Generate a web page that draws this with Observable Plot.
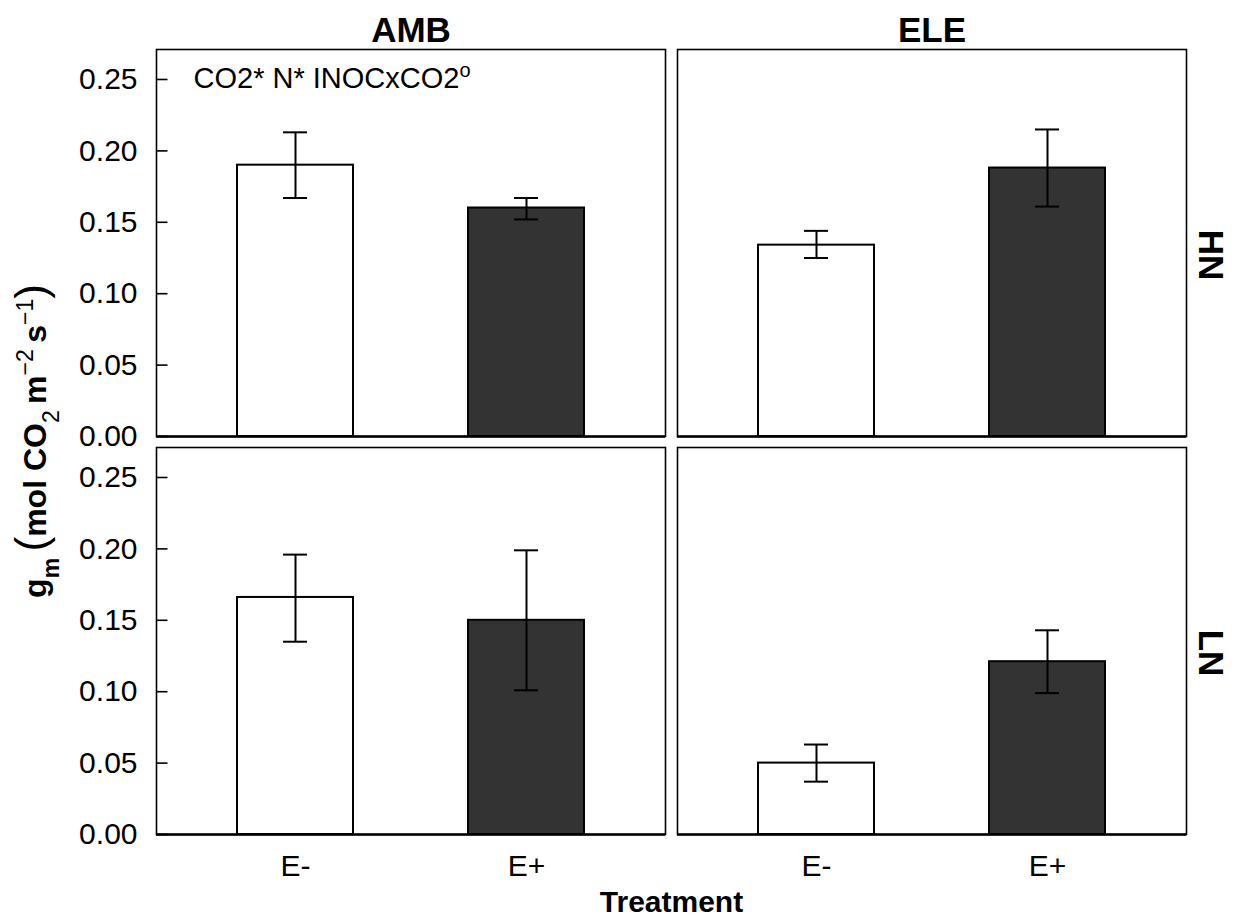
<!DOCTYPE html>
<html>
<head>
<meta charset="utf-8">
<script src="https://cdn.jsdelivr.net/npm/d3@7"></script>
<script src="https://cdn.jsdelivr.net/npm/@observablehq/plot@0.6"></script>
<style>
  html, body { margin: 0; padding: 0; background: #fff; }
  svg { display: block; }
</style>
</head>
<body>
<div id="chart"></div>
<script>
// ---- data ----
const co2Levels = ["AMB", "ELE"];
const nLevels = ["HN", "LN"];
const treatments = ["E-", "E+"];
const rowCO2 = ["AMB", "AMB", "AMB", "AMB", "ELE", "ELE", "ELE", "ELE"];
const rowN   = ["HN", "HN", "LN", "LN", "HN", "HN", "LN", "LN"];
const rowTrt = ["E-", "E+", "E-", "E+", "E-", "E+", "E-", "E+"];
const gmMean = [0.190, 0.160, 0.166, 0.150, 0.134, 0.188, 0.050, 0.121];
const gmLow  = [0.167, 0.152, 0.135, 0.101, 0.125, 0.161, 0.037, 0.099];
const gmHigh = [0.213, 0.167, 0.196, 0.199, 0.144, 0.215, 0.063, 0.143];
const yTicks = [0, 0.05, 0.10, 0.15, 0.20, 0.25];
const annotation = "CO2* N* INOCxCO2";
const annotationSup = "o";
const yLabelParts = [["g", ""], ["m", "sub"], ["\u2009", ""], ["(", "paren"], ["mol CO", ""], ["2", "sub"], ["\u2009m", ""], ["\u22122", "sup"], ["\u2009s", ""], ["\u22121", "sup"], [")", "paren"]];
const xLabel = "Treatment";

const rows = rowCO2.map((c, i) => ({co2: c, n: rowN[i], trt: rowTrt[i], mean: gmMean[i], lo: gmLow[i], hi: gmHigh[i]}));
const tickRows = nLevels.flatMap(n => yTicks.map(v => ({n, v})));

const W = 1238, H = 917;
const mL = 156, mR = 51, mT = 48, mB = 83;
const fxPad = 0.023;
const panelW = (W - mL - mR) / (2 - fxPad) * (1 - fxPad);

const chart = Plot.plot({
  width: W, height: H,
  marginLeft: mL, marginRight: mR, marginTop: mT, marginBottom: mB,
  style: {fontFamily: "'Liberation Sans', Arial, sans-serif", color: "#000", background: "#fff"},
  fx: {domain: co2Levels, padding: fxPad, axis: null},
  fy: {domain: nLevels, padding: 0.028, axis: null},
  x: {domain: treatments, paddingInner: 0.5, paddingOuter: 0.35, label: null},
  y: {domain: [0, 0.271], label: null},
  color: {domain: treatments, range: ["#ffffff", "#333333"]},
  marks: [
    Plot.barY(rows, {fx: "co2", fy: "n", x: "trt", y: "mean", fill: "trt", stroke: "#000", strokeWidth: 2}),
    Plot.ruleX(rows, {fx: "co2", fy: "n", x: "trt", y1: "lo", y2: "hi", stroke: "#000", strokeWidth: 2}),
    Plot.tickY(rows, {fx: "co2", fy: "n", x: "trt", y: "lo", stroke: "#000", strokeWidth: 2, insetLeft: 46, insetRight: 46}),
    Plot.tickY(rows, {fx: "co2", fy: "n", x: "trt", y: "hi", stroke: "#000", strokeWidth: 2, insetLeft: 46, insetRight: 46}),
    Plot.frame({stroke: "#000", strokeWidth: 1.6}),
    Plot.ruleY([0], {stroke: "#000", strokeWidth: 2.5}),
    // inward y ticks on the left panels
    Plot.tickY(tickRows, {fx: () => "AMB", fy: "n", y: "v", stroke: "#000", strokeWidth: 1.6, insetRight: panelW - 12}),
    Plot.axisY({ticks: yTicks, tickFormat: ".2f", tickSize: 0, tickPadding: 19, fontSize: 30, label: null}),
    Plot.axisX({tickSize: 0, tickPadding: 20, fontSize: 30, label: null}),
    // strip labels
    Plot.text(co2Levels, {fx: d => d, fy: () => "HN", text: d => d, frameAnchor: "top", lineAnchor: "bottom", dy: -8, fontSize: 35, fontWeight: "bold"}),
    Plot.text(nLevels, {fx: () => "ELE", fy: d => d, text: d => d, frameAnchor: "right", dx: 24, dy: 12, rotate: 90, textAnchor: "middle", lineAnchor: "middle", fontSize: 35, fontWeight: "bold"}),
    // annotation
    Plot.text([annotation], {fx: () => "AMB", fy: () => "HN", text: d => d, frameAnchor: "top-left", dx: 37, dy: 18, textAnchor: "start", lineAnchor: "top", fontSize: 29})
  ]
});

document.getElementById("chart").appendChild(chart);

const svg = d3.select(chart);
// superscript on the annotation
svg.selectAll("text").filter(function () { return this.textContent === annotation; })
  .append("tspan").attr("baseline-shift", "super").attr("font-size", 20).text(annotationSup);

// y-axis label
const yl = svg.append("text")
  .attr("transform", `translate(46, ${(mT + H - mB) / 2}) rotate(-90)`)
  .attr("text-anchor", "middle")
  .attr("font-family", "'Liberation Sans', Arial, sans-serif")
  .attr("font-weight", "bold")
  .attr("font-size", 32)
  .attr("fill", "#000");
yLabelParts.forEach(([t, kind]) => {
  const ts = yl.append("tspan").text(t);
  if (kind === "sub") ts.attr("baseline-shift", "sub").attr("font-size", 23).attr("font-weight", t === "m" ? "bold" : "normal");
  if (kind === "sup") ts.attr("baseline-shift", "super").attr("font-size", 23).attr("font-weight", "normal");
  if (kind === "paren") ts.attr("font-size", 44).attr("font-weight", "normal");
});

// x-axis title
svg.append("text")
  .attr("x", mL + (W - mL - mR) / 2)
  .attr("y", 912)
  .attr("text-anchor", "middle")
  .attr("font-family", "'Liberation Sans', Arial, sans-serif")
  .attr("font-weight", "bold")
  .attr("font-size", 30)
  .attr("fill", "#000")
  .text(xLabel);
</script>
</body>
</html>
